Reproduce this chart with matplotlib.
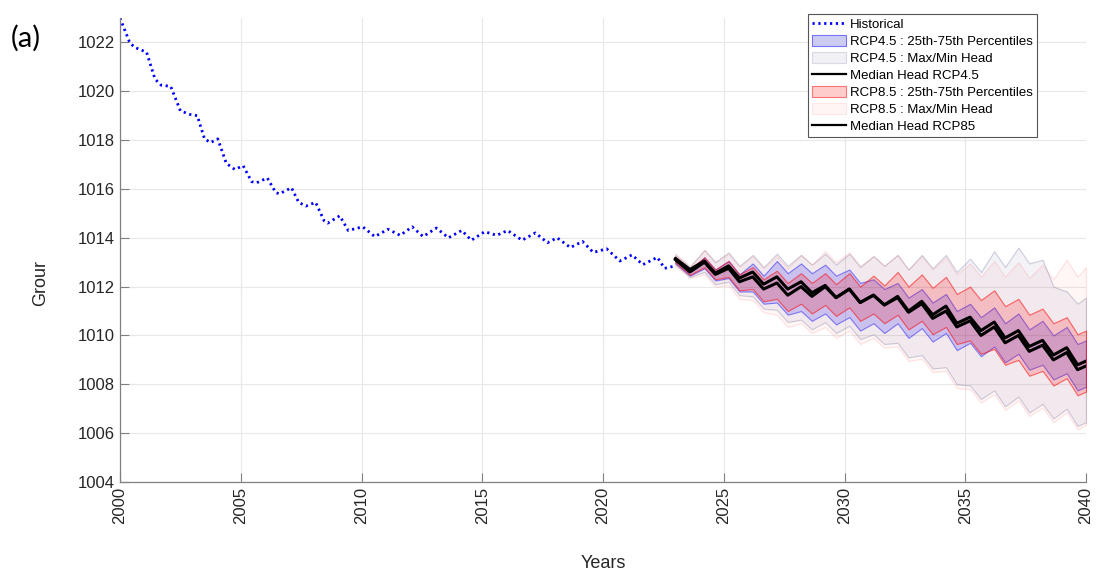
import matplotlib
matplotlib.use("Agg")
import matplotlib.pyplot as plt
from matplotlib.lines import Line2D
from matplotlib.patches import Patch

plt.rcParams['font.family'] = ['Liberation Sans', 'DejaVu Sans']

# historical head
hist_years = [2000.0, 2000.4, 2000.6, 2001.1, 2001.45, 2001.7, 2002.1, 2002.5, 2002.9, 2003.2,
              2003.5, 2003.75, 2004.05, 2004.4, 2004.75, 2005.1, 2005.45, 2005.65, 2006.1, 2006.45,
              2006.6, 2007.1, 2007.4, 2007.7, 2008.1, 2008.45, 2008.6, 2009.1, 2009.45, 2010.05,
              2010.55, 2011.1, 2011.6, 2012.1, 2012.55, 2013.1, 2013.6, 2014.15, 2014.55, 2015.1,
              2015.6, 2016.05, 2016.65, 2017.2, 2017.7, 2018.1, 2018.65, 2019.15, 2019.6, 2020.15,
              2020.7, 2021.2, 2021.65, 2022.25, 2022.55, 2023.0]
hist_head = [1023.0, 1022.0, 1021.8, 1021.6, 1020.5, 1020.25, 1020.2, 1019.2, 1019.05, 1019.0,
             1018.05, 1017.9, 1018.05, 1017.05, 1016.8, 1016.95, 1016.3, 1016.25, 1016.45, 1015.85,
             1015.8, 1016.05, 1015.45, 1015.3, 1015.45, 1014.7, 1014.6, 1014.9, 1014.3, 1014.45,
             1014.05, 1014.35, 1014.1, 1014.45, 1014.05, 1014.4, 1014.0, 1014.3, 1013.9, 1014.25,
             1014.1, 1014.3, 1013.9, 1014.2, 1013.8, 1014.0, 1013.6, 1013.85, 1013.4, 1013.55,
             1013.05, 1013.3, 1012.9, 1013.2, 1012.75, 1012.85]

# projection time steps (peak / trough of each year)
proj_years = [2023.0, 2023.6, 2024.2, 2024.65, 2025.2, 2025.65, 2026.2, 2026.65, 2027.2, 2027.65,
              2028.2, 2028.65, 2029.2, 2029.65, 2030.2, 2030.65, 2031.2, 2031.65, 2032.2, 2032.65,
              2033.2, 2033.65, 2034.2, 2034.65, 2035.2, 2035.65, 2036.2, 2036.65, 2037.2, 2037.65,
              2038.2, 2038.65, 2039.2, 2039.65, 2040.0]

med85 = [1013.1, 1012.6, 1013.0, 1012.5, 1012.75, 1012.2, 1012.4, 1011.9, 1012.15, 1011.65,
         1012.0, 1011.6, 1012.0, 1011.55, 1011.9, 1011.35, 1011.65, 1011.25, 1011.6, 1011.0,
         1011.4, 1010.85, 1011.2, 1010.5, 1010.75, 1010.2, 1010.55, 1009.9, 1010.2, 1009.55,
         1009.8, 1009.2, 1009.5, 1008.8, 1008.95]
med45 = [1013.15, 1012.7, 1013.05, 1012.55, 1012.85, 1012.35, 1012.6, 1012.1, 1012.4, 1011.9,
         1012.2, 1011.75, 1012.05, 1011.55, 1011.9, 1011.35, 1011.65, 1011.25, 1011.55, 1010.95,
         1011.3, 1010.7, 1011.0, 1010.35, 1010.6, 1010.0, 1010.35, 1009.7, 1010.0, 1009.35,
         1009.6, 1009.0, 1009.3, 1008.6, 1008.75]

max45 = [1013.3, 1012.8, 1013.5, 1013.0, 1013.4, 1012.85, 1013.3, 1012.8, 1013.35, 1012.85,
         1013.3, 1012.9, 1013.35, 1012.9, 1013.35, 1012.8, 1013.25, 1012.85, 1013.3, 1012.7,
         1013.3, 1012.75, 1013.3, 1012.6, 1013.15, 1012.6, 1013.45, 1012.8, 1013.6, 1012.95,
         1013.1, 1012.0, 1011.8, 1011.3, 1011.55]
min45 = [1012.9, 1012.4, 1012.6, 1012.1, 1012.2, 1011.65, 1011.6, 1011.1, 1011.05, 1010.55,
         1010.65, 1010.25, 1010.55, 1010.1, 1010.4, 1009.85, 1010.05, 1009.65, 1009.7, 1009.1,
         1009.2, 1008.65, 1008.7, 1008.0, 1007.95, 1007.4, 1007.75, 1007.1, 1007.5, 1006.85,
         1007.2, 1006.6, 1007.0, 1006.3, 1006.45]
q75_45 = [1013.2, 1012.7, 1013.2, 1012.7, 1013.05, 1012.5, 1012.95, 1012.45, 1013.05, 1012.55,
          1012.95, 1012.55, 1012.9, 1012.45, 1012.7, 1012.15, 1012.3, 1011.9, 1012.15, 1011.55,
          1011.9, 1011.35, 1011.7, 1011.0, 1011.3, 1010.75, 1011.15, 1010.5, 1010.9, 1010.25,
          1010.6, 1010.0, 1010.35, 1009.65, 1009.8]
q25_45 = [1012.95, 1012.45, 1012.75, 1012.25, 1012.35, 1011.8, 1011.8, 1011.3, 1011.35, 1010.85,
          1011.0, 1010.6, 1010.9, 1010.45, 1010.75, 1010.2, 1010.5, 1010.1, 1010.5, 1009.9,
          1010.3, 1009.75, 1010.1, 1009.4, 1009.7, 1009.15, 1009.55, 1008.9, 1009.25, 1008.6,
          1008.8, 1008.2, 1008.45, 1007.75, 1007.9]

max85 = [1013.35, 1012.85, 1013.5, 1013.0, 1013.35, 1012.8, 1013.25, 1012.75, 1013.25, 1012.75,
         1013.3, 1012.9, 1013.45, 1013.0, 1013.4, 1012.85, 1013.25, 1012.85, 1013.3, 1012.7,
         1013.25, 1012.7, 1013.2, 1012.5, 1012.95, 1012.4, 1013.05, 1012.4, 1013.0, 1012.35,
         1012.9, 1012.3, 1013.1, 1012.4, 1012.8]
min85 = [1012.85, 1012.35, 1012.5, 1012.0, 1012.05, 1011.5, 1011.45, 1010.95, 1010.85, 1010.35,
         1010.5, 1010.1, 1010.35, 1009.9, 1010.2, 1009.65, 1009.9, 1009.5, 1009.55, 1008.95,
         1009.05, 1008.5, 1008.55, 1007.85, 1007.8, 1007.25, 1007.6, 1006.95, 1007.35, 1006.7,
         1007.05, 1006.45, 1006.85, 1006.15, 1006.35]
q75_85 = [1013.22, 1012.72, 1013.2, 1012.7, 1013.05, 1012.5, 1012.8, 1012.3, 1012.65, 1012.15,
          1012.55, 1012.15, 1012.55, 1012.1, 1012.55, 1012.0, 1012.45, 1012.05, 1012.6, 1012.0,
          1012.5, 1011.95, 1012.4, 1011.7, 1012.0, 1011.45, 1011.85, 1011.2, 1011.5, 1010.85,
          1011.1, 1010.5, 1010.75, 1010.05, 1010.2]
q25_85 = [1012.98, 1012.48, 1012.8, 1012.3, 1012.4, 1011.85, 1011.9, 1011.4, 1011.5, 1011.0,
          1011.3, 1010.9, 1011.25, 1010.8, 1011.15, 1010.6, 1010.9, 1010.5, 1010.85, 1010.25,
          1010.6, 1010.05, 1010.35, 1009.65, 1009.8, 1009.25, 1009.45, 1008.8, 1009.0, 1008.35,
          1008.55, 1007.95, 1008.25, 1007.55, 1007.7]

x_ticks = [2000, 2005, 2010, 2015, 2020, 2025, 2030, 2035, 2040]
y_ticks = [1004, 1006, 1008, 1010, 1012, 1014, 1016, 1018, 1020, 1022]

fig = plt.figure(figsize=(10.98, 5.75), dpi=100)
ax = fig.add_axes([120 / 1098, 1 - 482 / 575, (1086 - 120) / 1098, (482 - 18) / 575])

hist_style = (0, (0.8, 1.3))
ax.plot(hist_years, hist_head, color='blue', linewidth=2.0, linestyle=hist_style)

ax.fill_between(proj_years, min45, max45, facecolor=(0.55, 0.55, 0.72, 0.11),
                edgecolor=(0.4, 0.4, 0.6, 0.3), linewidth=0.8)
ax.fill_between(proj_years, q25_45, q75_45, facecolor=(0, 0, 1, 0.17),
                edgecolor=(0, 0, 1, 0.45), linewidth=0.8)
ax.plot(proj_years, med45, color='black', linewidth=2.2)
ax.fill_between(proj_years, min85, max85, facecolor=(1, 0, 0, 0.035),
                edgecolor=(1, 0.5, 0.5, 0.22), linewidth=0.8)
ax.fill_between(proj_years, q25_85, q75_85, facecolor=(1, 0, 0, 0.19),
                edgecolor=(1, 0, 0, 0.55), linewidth=0.8)
ax.plot(proj_years, med85, color='black', linewidth=2.2)

ax.set_xlim(2000, 2040)
ax.set_ylim(1004, 1023)
ax.set_xticks(x_ticks)
ax.set_yticks(y_ticks)
ax.tick_params(axis='x', labelrotation=90)
ax.tick_params(direction='in', length=6.5, width=0.8, color='#808080',
               labelsize=12, labelcolor='#262626')
ax.grid(True, color='#e8e8e8', linewidth=0.8)
ax.set_axisbelow(True)
for side in ['top', 'right']:
    ax.spines[side].set_visible(False)
for side in ['left', 'bottom']:
    ax.spines[side].set_color('#808080')
    ax.spines[side].set_linewidth(0.9)

handles = [
    Line2D([], [], color='blue', linewidth=2.0, linestyle=hist_style),
    Patch(facecolor=(0.8, 0.8, 0.95), edgecolor=(0.45, 0.45, 1.0), linewidth=0.8),
    Patch(facecolor=(0.94, 0.94, 0.96), edgecolor=(0.85, 0.85, 0.9), linewidth=0.8),
    Line2D([], [], color='black', linewidth=1.6),
    Patch(facecolor=(1.0, 0.8, 0.8), edgecolor=(1.0, 0.45, 0.45), linewidth=0.8),
    Patch(facecolor=(1.0, 0.96, 0.96), edgecolor=(1.0, 0.9, 0.9), linewidth=0.8),
    Line2D([], [], color='black', linewidth=1.6),
]
labels = ['Historical', 'RCP4.5 : 25th-75th Percentiles', 'RCP4.5 : Max/Min Head',
          'Median Head RCP4.5', 'RCP8.5 : 25th-75th Percentiles', 'RCP8.5 : Max/Min Head',
          'Median Head RCP85']
leg = ax.legend(handles, labels, loc='upper right', bbox_to_anchor=(1037 / 1098, 1 - 14 / 575),
                bbox_transform=fig.transFigure, fontsize=9.5, frameon=True, fancybox=False,
                framealpha=1, edgecolor='#555555', handlelength=2.6, handleheight=0.9,
                handletextpad=0.3, labelspacing=0.3, borderpad=0.3, borderaxespad=0)
leg.get_frame().set_linewidth(0.8)

fig.text(41 / 1098, 1 - 283 / 575, 'Grour', rotation=90, ha='center', va='center',
         fontsize=13, color='#262626')
fig.text(603 / 1098, 1 - 564 / 575, 'Years', ha='center', va='center',
         fontsize=13, color='#262626')
fig.text(26 / 1098, 1 - 38 / 575, '(a)', ha='center', va='center', fontsize=21,
         family=['Lato', 'DejaVu Sans'], color='black')

fig.savefig('out.png', dpi=100)
